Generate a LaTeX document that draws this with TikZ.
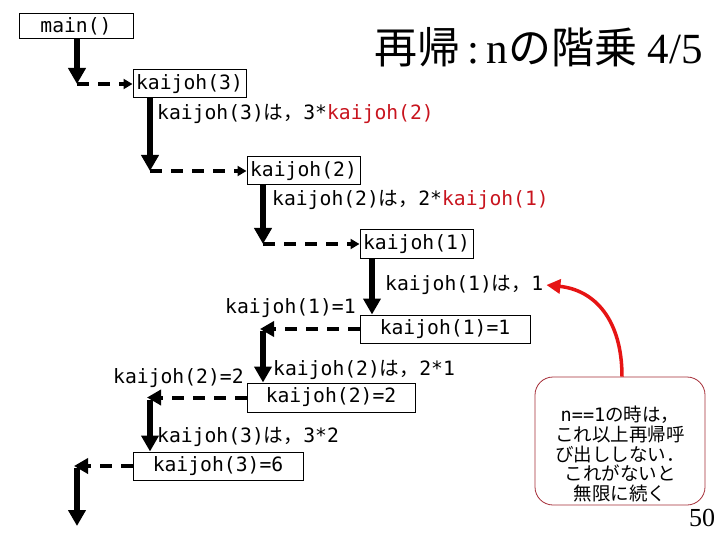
\documentclass[tikz,border=0pt]{standalone}
\usepackage{fontspec}
\setmainfont{Liberation Serif}
\newfontfamily\jp{Noto Sans CJK JP}
\newfontfamily\mn{DejaVu Sans Mono}
\usetikzlibrary{arrows.meta}
\definecolor{kred}{RGB}{200,20,30}
\definecolor{bred}{RGB}{165,45,55}
\definecolor{ared}{RGB}{230,20,20}
\begin{document}
\begin{tikzpicture}[x=1pt,y=-1pt,
  txt/.style={font=\mn\fontsize{19.7}{20}\selectfont},
  box/.style={draw,line width=1pt,inner sep=0pt,minimum height=28pt,txt},
  lbl/.style={anchor=west,inner sep=0pt,txt},
  callarrow/.style={line width=6pt,-{Triangle[width=17pt,length=16pt]}},
  dasharrow/.style={line width=4pt,dash pattern=on 12pt off 9pt,-{Triangle[width=10pt,length=9pt]}},
  retarrow/.style={line width=4pt,dash pattern=on 12pt off 9pt,-{Triangle[width=15pt,length=14pt]}}]
\useasboundingbox (0,0) rectangle (720,540);
% title
\node[anchor=east,inner sep=0pt] (title) at (703,47)
  {\fontsize{43}{43}\selectfont{\jp 再帰}\,:\,n{\jp の階乗} 4/5};
\node[inner sep=0pt,font=\fontsize{26}{26}\selectfont] (page) at (702,518) {50};
% boxes
\node[box,minimum width=114pt,minimum height=25pt] (main) at (76,26.5) {main()};
\node[box,minimum width=113pt] (k3) at (189.5,84) {kaijoh(3)};
\node[box,minimum width=113pt] (k2) at (303.5,171) {kaijoh(2)};
\node[box,minimum width=113pt] (k1) at (416.5,244) {kaijoh(1)};
\node[box,minimum width=170pt] (r1) at (445,329) {kaijoh(1)=1};
\node[box,minimum width=168pt,minimum height=29pt] (r2) at (331,397.5) {kaijoh(2)=2};
\node[box,minimum width=170pt] (r3) at (218,466) {kaijoh(3)=6};
% labels
\node[lbl] (t3) at (157,114) {kaijoh(3){\jp は，}3*\textcolor{kred}{kaijoh(2)}};
\node[lbl] (t2) at (272,200) {kaijoh(2){\jp は，}2*\textcolor{kred}{kaijoh(1)}};
\node[lbl] (t1) at (385,285) {kaijoh(1){\jp は，}1};
\node[lbl] (v1) at (225,308) {kaijoh(1)=1};
\node[lbl] (u2) at (273,370) {kaijoh(2){\jp は，}2*1};
\node[lbl] (v2) at (113,378) {kaijoh(2)=2};
\node[lbl] (u3) at (157,437) {kaijoh(3){\jp は，}3*2};
% callout
\node[draw=bred,line width=0.8pt,rounded corners=18pt,minimum width=170pt,minimum height=128pt,
  inner sep=0pt] (note) at (620,441) {};
\node[align=center,inner sep=0pt,font=\jp\fontsize{18.5}{19.6}\selectfont] (notetext) at (620,454)
  {{\mn n==1}の時は，\\これ以上再帰呼\\び出ししない．\\これがないと\\無限に続く};
% call chain
\coordinate (c0) at (77,84);
\coordinate (c1) at (150,171);
\coordinate (c2) at (263,244);
\draw[callarrow] (main.south -| c0) -- (c0);
\draw[dasharrow] (c0) -- (k3.west);
\draw[callarrow] (k3.south -| c1) -- (c1);
\draw[dasharrow] (c1) -- (k2.west);
\draw[callarrow] (k2.south -| c2) -- (c2);
\draw[dasharrow] (c2) -- (k1.west);
\coordinate (d1) at (372,258);
\draw[callarrow] (k1.south -| d1) -- (r1.north -| d1);
% return chain
\coordinate (c4) at (263,329);
\coordinate (c5) at (150,397.5);
\coordinate (c6) at (77,466);
\coordinate (end) at (77,526);
\draw[retarrow] (r1.west) -- ([xshift=-3pt]c4);
\draw[callarrow] ([yshift=-2pt]c4) -- (r2.north -| c4);
\draw[retarrow] (r2.west) -- ([xshift=-3pt]c5);
\draw[callarrow] ([yshift=-2pt]c5) -- (r3.north -| c5);
\draw[retarrow] (r3.west) -- ([xshift=-3pt]c6);
\draw[callarrow] ([yshift=-2pt]c6) -- (end);
% red arrow
\draw[ared,line width=3.5pt,-{Triangle[width=14pt,length=14pt]}]
  (note.north -| 622,0) .. controls (622,320) and (595,290) .. ([xshift=3pt]t1.east);
\end{tikzpicture}
\end{document}
